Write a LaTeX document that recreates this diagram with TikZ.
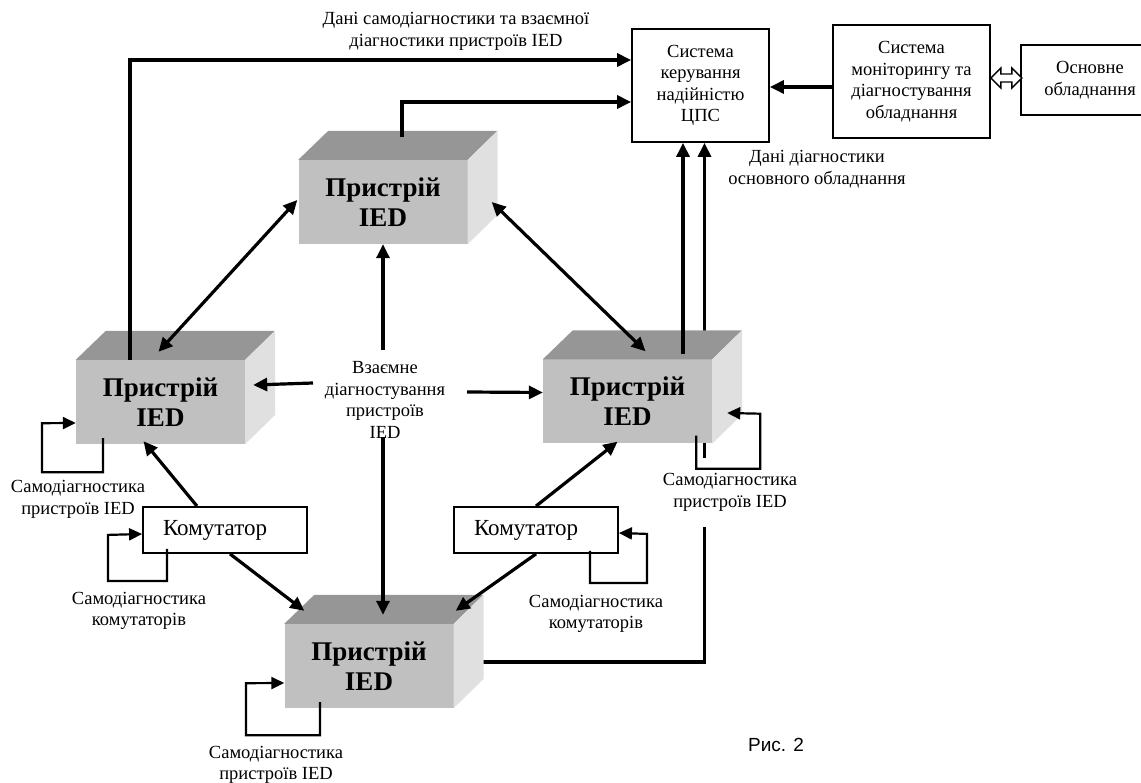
\documentclass[tikz,border=0pt]{standalone}
\usepackage{fontspec}
\setmainfont{Liberation Serif}
\newfontfamily\capfont{Liberation Sans}
\usetikzlibrary{arrows.meta,calc}
\definecolor{frontgray}{HTML}{C0C0C0}
\definecolor{topgray}{HTML}{969696}
\definecolor{sidegray}{HTML}{E0E0E0}
\newcommand{\mybody}{\fontsize{18.5pt}{21.5pt}\selectfont}
\newcommand{\myied}{\fontsize{27pt}{30pt}\selectfont\bfseries}
\newcommand{\mykom}{\fontsize{23pt}{26pt}\selectfont}
\newcommand{\mycap}{\capfont\fontsize{19pt}{23pt}\selectfont}
\pgfdeclarelayer{bg}
\pgfsetlayers{bg,main}
\newcommand{\iedbox}[2]{%
  \node[iedfront] (#1) at (#2) {Пристрій\\IED};
  \fill[topgray] (#1.north west) -- ++(30,-29) -- ++(169,0) -- (#1.north east) -- cycle;
  \fill[sidegray] (#1.north east) -- ++(30,-29) -- ++(0,84) -- (#1.south east) -- cycle;
}
\begin{document}
\begin{tikzpicture}[x=1pt,y=-1pt,
  sysbox/.style={draw, line width=1.8pt, fill=white, align=center, inner sep=0pt, font=\mybody},
  kombox/.style={draw, line width=1.8pt, fill=white, align=left, inner xsep=20pt, inner ysep=0pt, text width=124pt, minimum height=46pt, font=\mykom},
  iedfront/.style={fill=frontgray, minimum width=169pt, minimum height=84pt, inner sep=0pt, align=center, font=\myied},
  lbl/.style={align=center, font=\mybody, inner sep=1pt},
  conn/.style={line width=3.2pt, -{Triangle[length=14pt,width=13pt]}},
  biconn/.style={line width=3.2pt, {Triangle[length=14pt,width=13pt]}-{Triangle[length=14pt,width=13pt]}},
  loopc/.style={line width=2.2pt, -{Triangle[length=13pt,width=12pt]}}
]
\useasboundingbox (0,0) rectangle (1141,783);

% system boxes
\node[sysbox, minimum width=137pt, minimum height=113pt] (cps) at (700.5,85.5) {Система\\керування\\надійністю\\ЦПС};
\node[sysbox, minimum width=157pt, minimum height=113pt] (mon) at (911.5,81.5) {Система\\моніторингу та\\діагностування\\обладнання};
\node[sysbox, minimum width=138pt, minimum height=70pt] (main) at (1090,80) {Основне\\обладнання};

% IED boxes
\iedbox{top}{383,202}
\iedbox{left}{160.5,402}
\iedbox{right}{627.5,401.5}
\iedbox{bot}{369,666}

% switches
\node[kombox] (komL) at (225,530) {Комутатор};
\node[kombox] (komR) at (536,530) {Комутатор};

% labels
\node[lbl] (title) at (456,31.5) {Дані самодіагностики та взаємної\\діагностики пристроїв IED};
\node[lbl] (diag) at (817,169) {Дані діагностики\\основного обладнання};
\node[lbl] (mutual) at (385,400) {Взаємне\\діагностування\\пристроїв\\IED};
\node[lbl] (sdL) at (78,499.5) {Самодіагностика\\пристроїв IED};
\node[lbl] (sdKL) at (139,611) {Самодіагностика\\комутаторів};
\node[lbl] (sdKR) at (596,614) {Самодіагностика\\комутаторів};
\node[lbl, fill=white, minimum height=68pt] (sdR) at (730,492.5) {Самодіагностика\\пристроїв IED};
\node[lbl] (sdB) at (276,765) {Самодіагностика\\пристроїв IED};
\node[font=\mycap, inner sep=0pt] (cap) at (776,745) {Рис. 2};

% coordinates
\coordinate (r1) at ([shift={(55.5,-5)}]right.north);
\coordinate (b1) at ([shift={(14,-4)}]bot.east);
\coordinate (c2) at ([shift={(4,0)}]cps.south);
\coordinate (m1) at ([shift={(0,5.5)}]mon.west);
\coordinate (v1) at ([shift={(-2,-50)}]mutual.center);
\coordinate (v2) at ([shift={(-2,37)}]mutual.center);

% line behind right IED
\begin{pgfonlayer}{bg}
\draw[conn] (b1) -| (c2);
\end{pgfonlayer}

% double arrow
\draw[line width=1.4pt, fill=white] ([shift={(0,-3.5)}]mon.east) -- ++(10,-10) -- ++(0,6) -- ++(11,0) -- ++(0,-6) -- ++(10,10) -- ++(-10,10) -- ++(0,-6) -- ++(-11,0) -- ++(0,6) -- cycle;

% connectors to CPS
\draw[conn] ([shift={(-30.5,0)}]left.north) |- ([shift={(0,-25.5)}]cps.west);
\draw[conn] ([shift={(19,-23)}]top.north) |- ([shift={(0,16.5)}]cps.west);
\draw[conn] (r1) -- (r1 |- cps.south);
\draw[conn] (m1) -- (m1 -| cps.east);

% mutual diagnostics
\draw[biconn] ([shift={(-2,-8)}]left.north) -- ([shift={(-1,-2)}]top.west);
\draw[biconn] ([shift={(24,0)}]top.east) -- ([shift={(18,-8)}]right.north);
\draw[conn] (v1) -- (v1 |- top.south);
\draw[conn] (v2) -- ([shift={(14,-9)}]bot.north);
\draw[conn] ([shift={(-72,-17)}]mutual.center) -- ([shift={(8,-17)}]left.east);
\draw[conn] ([shift={(82,-8)}]mutual.center) -- ([shift={(0,-9)}]right.west);

% switches to IEDs
\draw[conn] ([shift={(-28,0)}]komL.north) -- ([shift={(-17,-3)}]left.south);
\draw[conn] ([shift={(5,0)}]komL.south) -- ([shift={(20,-13)}]bot.north west);
\draw[conn] (komR.north) -- ([shift={(-10,-2)}]right.south);
\draw[conn] (komR.south) -- ([shift={(2,-13)}]bot.north east);

% self-diagnostic loops
\draw[loopc] ([shift={(-57.5,-6)}]left.south) -- ++(0,34) -- ++(-61,0) -- ++(0,-49) -- ([shift={(0,21)}]left.west);
\draw[loopc] ([shift={(-58,-5)}]komL.south) -- ++(0,32) -- ++(-59,0) -- ++(0,-46) -- ([shift={(0,4)}]komL.west);
\draw[loopc] ([shift={(54,-3)}]komR.south) -- ++(0,32) -- ++(57,0) -- ++(0,-49) -- ([shift={(0,3)}]komR.east);
\draw[loopc] ([shift={(-16,-8)}]right.south east) -- ++(0,33) -- ++(64,0) -- ++(0,-55) -- ([shift={(15,11.5)}]right.east);
\draw[loopc] ([shift={(-49,-6)}]bot.south) -- ++(0,33) -- ++(-74,0) -- ++(0,-52) -- ([shift={(0,17)}]bot.west);
\end{tikzpicture}
\end{document}
